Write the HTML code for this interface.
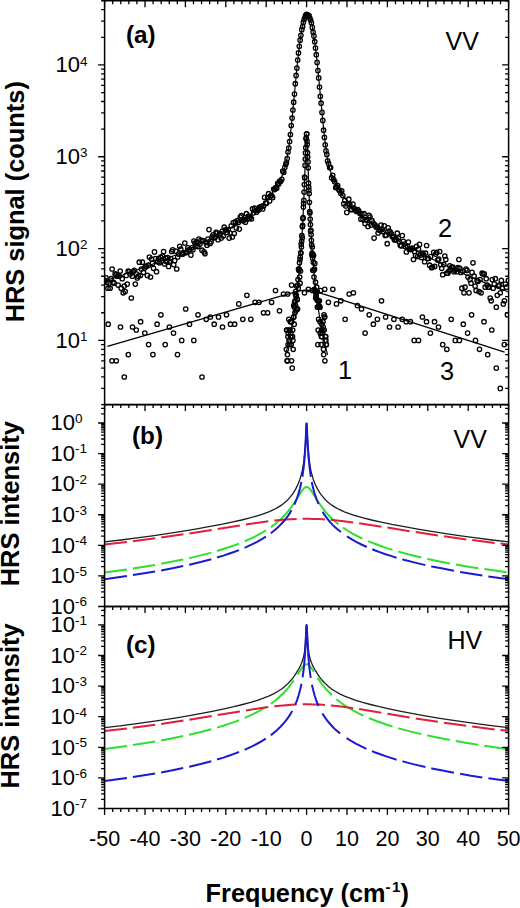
<!DOCTYPE html>
<html><head><meta charset="utf-8"><style>
html,body{margin:0;padding:0;background:#fff;}
svg{display:block;}
</style></head><body>
<svg width="520" height="908" viewBox="0 0 520 908">
<defs><clipPath id="ca"><rect x="104.6" y="0.75" width="404.0" height="403.85"/></clipPath><clipPath id="cb"><rect x="104.6" y="404.6" width="404.0" height="201.89999999999998"/></clipPath><clipPath id="cc"><rect x="104.6" y="606.5" width="404.0" height="202.0"/></clipPath></defs>
<rect width="520" height="908" fill="#fff"/>
<g clip-path="url(#ca)">
<g fill="none" stroke="#000" stroke-width="1.3">
<circle cx="105.0" cy="280.4" r="2.2"/><circle cx="106.0" cy="277.9" r="2.2"/><circle cx="107.0" cy="282.2" r="2.2"/><circle cx="108.0" cy="288.2" r="2.2"/><circle cx="109.0" cy="283.2" r="2.2"/><circle cx="110.1" cy="288.2" r="2.2"/><circle cx="111.1" cy="278.7" r="2.2"/><circle cx="112.1" cy="269.0" r="2.2"/><circle cx="113.1" cy="282.2" r="2.2"/><circle cx="114.1" cy="283.2" r="2.2"/><circle cx="115.1" cy="273.9" r="2.2"/><circle cx="116.1" cy="274.7" r="2.2"/><circle cx="117.1" cy="276.2" r="2.2"/><circle cx="118.1" cy="285.1" r="2.2"/><circle cx="119.1" cy="276.2" r="2.2"/><circle cx="120.2" cy="271.0" r="2.2"/><circle cx="121.2" cy="288.2" r="2.2"/><circle cx="122.2" cy="278.7" r="2.2"/><circle cx="123.2" cy="292.8" r="2.2"/><circle cx="124.2" cy="286.1" r="2.2"/><circle cx="125.2" cy="291.6" r="2.2"/><circle cx="126.2" cy="275.4" r="2.2"/><circle cx="127.2" cy="284.1" r="2.2"/><circle cx="128.2" cy="271.0" r="2.2"/><circle cx="129.2" cy="271.7" r="2.2"/><circle cx="130.3" cy="273.9" r="2.2"/><circle cx="131.3" cy="298.0" r="2.2"/><circle cx="132.3" cy="276.2" r="2.2"/><circle cx="133.3" cy="271.7" r="2.2"/><circle cx="134.3" cy="270.3" r="2.2"/><circle cx="135.3" cy="284.1" r="2.2"/><circle cx="136.3" cy="273.9" r="2.2"/><circle cx="137.3" cy="277.9" r="2.2"/><circle cx="138.3" cy="276.2" r="2.2"/><circle cx="139.3" cy="262.2" r="2.2"/><circle cx="140.4" cy="275.4" r="2.2"/><circle cx="141.4" cy="269.0" r="2.2"/><circle cx="142.4" cy="262.2" r="2.2"/><circle cx="143.4" cy="272.4" r="2.2"/><circle cx="144.4" cy="268.3" r="2.2"/><circle cx="145.4" cy="266.4" r="2.2"/><circle cx="146.4" cy="266.4" r="2.2"/><circle cx="147.4" cy="275.4" r="2.2"/><circle cx="148.4" cy="265.2" r="2.2"/><circle cx="149.4" cy="257.0" r="2.2"/><circle cx="150.5" cy="277.0" r="2.2"/><circle cx="151.5" cy="259.0" r="2.2"/><circle cx="152.5" cy="263.4" r="2.2"/><circle cx="153.5" cy="268.3" r="2.2"/><circle cx="154.5" cy="251.9" r="2.2"/><circle cx="155.5" cy="258.5" r="2.2"/><circle cx="156.5" cy="271.7" r="2.2"/><circle cx="157.5" cy="261.7" r="2.2"/><circle cx="158.5" cy="258.5" r="2.2"/><circle cx="159.5" cy="262.8" r="2.2"/><circle cx="160.6" cy="257.0" r="2.2"/><circle cx="161.6" cy="261.1" r="2.2"/><circle cx="162.6" cy="256.0" r="2.2"/><circle cx="163.6" cy="251.5" r="2.2"/><circle cx="164.6" cy="264.0" r="2.2"/><circle cx="165.6" cy="258.0" r="2.2"/><circle cx="166.6" cy="261.7" r="2.2"/><circle cx="167.6" cy="257.5" r="2.2"/><circle cx="168.6" cy="266.4" r="2.2"/><circle cx="169.6" cy="261.1" r="2.2"/><circle cx="170.7" cy="258.5" r="2.2"/><circle cx="171.7" cy="251.5" r="2.2"/><circle cx="172.7" cy="249.8" r="2.2"/><circle cx="173.7" cy="264.6" r="2.2"/><circle cx="174.7" cy="260.6" r="2.2"/><circle cx="175.7" cy="251.1" r="2.2"/><circle cx="176.7" cy="269.0" r="2.2"/><circle cx="177.7" cy="257.0" r="2.2"/><circle cx="178.7" cy="254.1" r="2.2"/><circle cx="179.7" cy="246.3" r="2.2"/><circle cx="180.8" cy="249.0" r="2.2"/><circle cx="181.8" cy="254.1" r="2.2"/><circle cx="182.8" cy="254.1" r="2.2"/><circle cx="183.8" cy="252.8" r="2.2"/><circle cx="184.8" cy="243.0" r="2.2"/><circle cx="185.8" cy="252.8" r="2.2"/><circle cx="186.8" cy="251.9" r="2.2"/><circle cx="187.8" cy="247.8" r="2.2"/><circle cx="188.8" cy="249.8" r="2.2"/><circle cx="189.8" cy="249.8" r="2.2"/><circle cx="190.9" cy="255.1" r="2.2"/><circle cx="191.9" cy="247.8" r="2.2"/><circle cx="192.9" cy="249.8" r="2.2"/><circle cx="193.9" cy="241.0" r="2.2"/><circle cx="194.9" cy="243.0" r="2.2"/><circle cx="195.9" cy="245.9" r="2.2"/><circle cx="196.9" cy="242.0" r="2.2"/><circle cx="197.9" cy="246.6" r="2.2"/><circle cx="198.9" cy="239.1" r="2.2"/><circle cx="199.9" cy="244.1" r="2.2"/><circle cx="201.0" cy="240.3" r="2.2"/><circle cx="202.0" cy="250.2" r="2.2"/><circle cx="203.0" cy="240.7" r="2.2"/><circle cx="204.0" cy="251.9" r="2.2"/><circle cx="205.0" cy="253.7" r="2.2"/><circle cx="206.0" cy="242.7" r="2.2"/><circle cx="207.0" cy="245.2" r="2.2"/><circle cx="208.0" cy="239.1" r="2.2"/><circle cx="209.0" cy="229.6" r="2.2"/><circle cx="210.0" cy="243.4" r="2.2"/><circle cx="211.1" cy="241.7" r="2.2"/><circle cx="212.1" cy="236.9" r="2.2"/><circle cx="213.1" cy="234.9" r="2.2"/><circle cx="214.1" cy="237.8" r="2.2"/><circle cx="215.1" cy="237.2" r="2.2"/><circle cx="216.1" cy="232.4" r="2.2"/><circle cx="217.1" cy="233.0" r="2.2"/><circle cx="218.1" cy="239.7" r="2.2"/><circle cx="219.1" cy="234.6" r="2.2"/><circle cx="220.1" cy="233.5" r="2.2"/><circle cx="221.2" cy="238.1" r="2.2"/><circle cx="222.2" cy="231.4" r="2.2"/><circle cx="223.2" cy="236.0" r="2.2"/><circle cx="224.2" cy="227.2" r="2.2"/><circle cx="225.2" cy="229.8" r="2.2"/><circle cx="226.2" cy="229.8" r="2.2"/><circle cx="227.2" cy="232.4" r="2.2"/><circle cx="228.2" cy="229.6" r="2.2"/><circle cx="229.2" cy="238.1" r="2.2"/><circle cx="230.2" cy="233.0" r="2.2"/><circle cx="231.3" cy="225.8" r="2.2"/><circle cx="232.3" cy="236.9" r="2.2"/><circle cx="233.3" cy="222.6" r="2.2"/><circle cx="234.3" cy="233.5" r="2.2"/><circle cx="235.3" cy="221.8" r="2.2"/><circle cx="236.3" cy="227.9" r="2.2"/><circle cx="237.3" cy="220.5" r="2.2"/><circle cx="238.3" cy="222.4" r="2.2"/><circle cx="239.3" cy="229.1" r="2.2"/><circle cx="240.3" cy="217.0" r="2.2"/><circle cx="241.4" cy="215.7" r="2.2"/><circle cx="242.4" cy="220.5" r="2.2"/><circle cx="243.4" cy="220.7" r="2.2"/><circle cx="244.4" cy="219.6" r="2.2"/><circle cx="245.4" cy="222.2" r="2.2"/><circle cx="246.4" cy="213.7" r="2.2"/><circle cx="247.4" cy="219.0" r="2.2"/><circle cx="248.4" cy="216.2" r="2.2"/><circle cx="249.4" cy="218.4" r="2.2"/><circle cx="250.4" cy="217.0" r="2.2"/><circle cx="251.5" cy="218.8" r="2.2"/><circle cx="252.5" cy="208.8" r="2.2"/><circle cx="253.5" cy="212.9" r="2.2"/><circle cx="254.5" cy="208.2" r="2.2"/><circle cx="255.5" cy="210.6" r="2.2"/><circle cx="256.5" cy="212.2" r="2.2"/><circle cx="257.5" cy="210.0" r="2.2"/><circle cx="258.5" cy="210.0" r="2.2"/><circle cx="259.5" cy="207.1" r="2.2"/><circle cx="260.5" cy="207.5" r="2.2"/><circle cx="261.6" cy="206.3" r="2.2"/><circle cx="262.6" cy="209.0" r="2.2"/><circle cx="263.6" cy="205.9" r="2.2"/><circle cx="264.6" cy="197.4" r="2.2"/><circle cx="265.6" cy="203.2" r="2.2"/><circle cx="266.6" cy="203.3" r="2.2"/><circle cx="267.6" cy="197.8" r="2.2"/><circle cx="268.6" cy="193.7" r="2.2"/><circle cx="269.6" cy="201.0" r="2.2"/><circle cx="270.6" cy="195.8" r="2.2"/><circle cx="271.7" cy="195.7" r="2.2"/><circle cx="272.7" cy="197.6" r="2.2"/><circle cx="273.7" cy="189.1" r="2.2"/><circle cx="274.7" cy="189.6" r="2.2"/><circle cx="275.7" cy="187.7" r="2.2"/><circle cx="276.7" cy="188.3" r="2.2"/><circle cx="277.7" cy="183.4" r="2.2"/><circle cx="278.7" cy="184.0" r="2.2"/><circle cx="279.7" cy="181.1" r="2.2"/><circle cx="280.7" cy="181.3" r="2.2"/><circle cx="281.8" cy="179.3" r="2.2"/><circle cx="282.8" cy="171.2" r="2.2"/><circle cx="283.8" cy="172.3" r="2.2"/><circle cx="284.8" cy="167.4" r="2.2"/><circle cx="285.8" cy="164.3" r="2.2"/><circle cx="286.4" cy="162.5" r="2.2"/><circle cx="287.2" cy="158.6" r="2.2"/><circle cx="288.0" cy="152.0" r="2.2"/><circle cx="288.8" cy="148.1" r="2.2"/><circle cx="289.6" cy="141.6" r="2.2"/><circle cx="290.4" cy="134.5" r="2.2"/><circle cx="291.2" cy="125.5" r="2.2"/><circle cx="292.1" cy="118.1" r="2.2"/><circle cx="292.9" cy="110.0" r="2.2"/><circle cx="293.7" cy="102.2" r="2.2"/><circle cx="294.5" cy="94.1" r="2.2"/><circle cx="295.3" cy="83.7" r="2.2"/><circle cx="296.1" cy="75.4" r="2.2"/><circle cx="296.9" cy="68.1" r="2.2"/><circle cx="297.7" cy="60.1" r="2.2"/><circle cx="298.5" cy="52.9" r="2.2"/><circle cx="299.3" cy="46.3" r="2.2"/><circle cx="300.1" cy="40.2" r="2.2"/><circle cx="300.9" cy="35.3" r="2.2"/><circle cx="301.8" cy="29.7" r="2.2"/><circle cx="302.6" cy="26.5" r="2.2"/><circle cx="303.4" cy="22.2" r="2.2"/><circle cx="304.2" cy="19.4" r="2.2"/><circle cx="305.0" cy="17.0" r="2.2"/><circle cx="305.8" cy="15.1" r="2.2"/><circle cx="306.6" cy="14.3" r="2.2"/><circle cx="307.4" cy="14.8" r="2.2"/><circle cx="308.2" cy="15.3" r="2.2"/><circle cx="309.0" cy="15.7" r="2.2"/><circle cx="309.8" cy="18.0" r="2.2"/><circle cx="310.6" cy="20.1" r="2.2"/><circle cx="311.4" cy="22.8" r="2.2"/><circle cx="312.3" cy="27.4" r="2.2"/><circle cx="313.1" cy="32.0" r="2.2"/><circle cx="313.9" cy="36.1" r="2.2"/><circle cx="314.7" cy="41.7" r="2.2"/><circle cx="315.5" cy="48.1" r="2.2"/><circle cx="316.3" cy="54.7" r="2.2"/><circle cx="317.1" cy="62.4" r="2.2"/><circle cx="317.9" cy="70.6" r="2.2"/><circle cx="318.7" cy="77.9" r="2.2"/><circle cx="319.5" cy="87.0" r="2.2"/><circle cx="320.3" cy="96.3" r="2.2"/><circle cx="321.1" cy="103.2" r="2.2"/><circle cx="322.0" cy="112.4" r="2.2"/><circle cx="322.8" cy="120.4" r="2.2"/><circle cx="323.6" cy="130.2" r="2.2"/><circle cx="324.4" cy="137.4" r="2.2"/><circle cx="325.2" cy="144.8" r="2.2"/><circle cx="326.0" cy="150.9" r="2.2"/><circle cx="326.8" cy="154.4" r="2.2"/><circle cx="327.6" cy="160.9" r="2.2"/><circle cx="328.6" cy="163.6" r="2.2"/><circle cx="329.6" cy="167.6" r="2.2"/><circle cx="330.6" cy="167.6" r="2.2"/><circle cx="331.6" cy="177.8" r="2.2"/><circle cx="332.7" cy="175.3" r="2.2"/><circle cx="333.7" cy="179.7" r="2.2"/><circle cx="334.7" cy="181.8" r="2.2"/><circle cx="335.7" cy="187.6" r="2.2"/><circle cx="336.7" cy="186.9" r="2.2"/><circle cx="337.7" cy="185.6" r="2.2"/><circle cx="338.7" cy="189.5" r="2.2"/><circle cx="339.7" cy="190.7" r="2.2"/><circle cx="340.7" cy="193.3" r="2.2"/><circle cx="341.7" cy="190.9" r="2.2"/><circle cx="342.8" cy="195.6" r="2.2"/><circle cx="343.8" cy="203.9" r="2.2"/><circle cx="344.8" cy="200.4" r="2.2"/><circle cx="345.8" cy="206.0" r="2.2"/><circle cx="346.8" cy="212.4" r="2.2"/><circle cx="347.8" cy="203.7" r="2.2"/><circle cx="348.8" cy="199.2" r="2.2"/><circle cx="349.8" cy="204.2" r="2.2"/><circle cx="350.8" cy="209.4" r="2.2"/><circle cx="351.8" cy="209.7" r="2.2"/><circle cx="352.9" cy="204.0" r="2.2"/><circle cx="353.9" cy="208.1" r="2.2"/><circle cx="354.9" cy="209.4" r="2.2"/><circle cx="355.9" cy="210.8" r="2.2"/><circle cx="356.9" cy="211.4" r="2.2"/><circle cx="357.9" cy="209.7" r="2.2"/><circle cx="358.9" cy="211.4" r="2.2"/><circle cx="359.9" cy="213.5" r="2.2"/><circle cx="360.9" cy="219.2" r="2.2"/><circle cx="361.9" cy="214.2" r="2.2"/><circle cx="363.0" cy="219.6" r="2.2"/><circle cx="364.0" cy="213.7" r="2.2"/><circle cx="365.0" cy="223.6" r="2.2"/><circle cx="366.0" cy="219.8" r="2.2"/><circle cx="367.0" cy="220.2" r="2.2"/><circle cx="368.0" cy="226.5" r="2.2"/><circle cx="369.0" cy="215.4" r="2.2"/><circle cx="370.0" cy="217.0" r="2.2"/><circle cx="371.0" cy="225.1" r="2.2"/><circle cx="372.0" cy="220.7" r="2.2"/><circle cx="373.1" cy="223.0" r="2.2"/><circle cx="374.1" cy="238.1" r="2.2"/><circle cx="375.1" cy="224.9" r="2.2"/><circle cx="376.1" cy="227.0" r="2.2"/><circle cx="377.1" cy="227.2" r="2.2"/><circle cx="378.1" cy="233.0" r="2.2"/><circle cx="379.1" cy="230.1" r="2.2"/><circle cx="380.1" cy="230.3" r="2.2"/><circle cx="381.1" cy="225.1" r="2.2"/><circle cx="382.1" cy="229.3" r="2.2"/><circle cx="383.2" cy="231.6" r="2.2"/><circle cx="384.2" cy="225.8" r="2.2"/><circle cx="385.2" cy="235.5" r="2.2"/><circle cx="386.2" cy="235.2" r="2.2"/><circle cx="387.2" cy="243.7" r="2.2"/><circle cx="388.2" cy="227.9" r="2.2"/><circle cx="389.2" cy="231.1" r="2.2"/><circle cx="390.2" cy="231.9" r="2.2"/><circle cx="391.2" cy="233.5" r="2.2"/><circle cx="392.2" cy="236.6" r="2.2"/><circle cx="393.3" cy="236.9" r="2.2"/><circle cx="394.3" cy="239.7" r="2.2"/><circle cx="395.3" cy="240.0" r="2.2"/><circle cx="396.3" cy="239.4" r="2.2"/><circle cx="397.3" cy="233.2" r="2.2"/><circle cx="398.3" cy="238.1" r="2.2"/><circle cx="399.3" cy="241.7" r="2.2"/><circle cx="400.3" cy="245.2" r="2.2"/><circle cx="401.3" cy="245.9" r="2.2"/><circle cx="402.3" cy="235.5" r="2.2"/><circle cx="403.4" cy="241.3" r="2.2"/><circle cx="404.4" cy="244.1" r="2.2"/><circle cx="405.4" cy="246.6" r="2.2"/><circle cx="406.4" cy="251.9" r="2.2"/><circle cx="407.4" cy="246.3" r="2.2"/><circle cx="408.4" cy="242.0" r="2.2"/><circle cx="409.4" cy="249.4" r="2.2"/><circle cx="410.4" cy="249.0" r="2.2"/><circle cx="411.4" cy="249.4" r="2.2"/><circle cx="412.4" cy="248.2" r="2.2"/><circle cx="413.5" cy="259.5" r="2.2"/><circle cx="414.5" cy="251.5" r="2.2"/><circle cx="415.5" cy="255.5" r="2.2"/><circle cx="416.5" cy="246.3" r="2.2"/><circle cx="417.5" cy="256.5" r="2.2"/><circle cx="418.5" cy="249.0" r="2.2"/><circle cx="419.5" cy="244.4" r="2.2"/><circle cx="420.5" cy="255.1" r="2.2"/><circle cx="421.5" cy="257.5" r="2.2"/><circle cx="422.5" cy="253.2" r="2.2"/><circle cx="423.6" cy="254.6" r="2.2"/><circle cx="424.6" cy="261.7" r="2.2"/><circle cx="425.6" cy="253.2" r="2.2"/><circle cx="426.6" cy="245.5" r="2.2"/><circle cx="427.6" cy="258.5" r="2.2"/><circle cx="428.6" cy="258.5" r="2.2"/><circle cx="429.6" cy="265.2" r="2.2"/><circle cx="430.6" cy="256.5" r="2.2"/><circle cx="431.6" cy="267.7" r="2.2"/><circle cx="432.6" cy="267.0" r="2.2"/><circle cx="433.7" cy="252.3" r="2.2"/><circle cx="434.7" cy="266.4" r="2.2"/><circle cx="435.7" cy="254.1" r="2.2"/><circle cx="436.7" cy="252.3" r="2.2"/><circle cx="437.7" cy="260.1" r="2.2"/><circle cx="438.7" cy="259.0" r="2.2"/><circle cx="439.7" cy="251.5" r="2.2"/><circle cx="440.7" cy="264.6" r="2.2"/><circle cx="441.7" cy="268.3" r="2.2"/><circle cx="442.7" cy="274.7" r="2.2"/><circle cx="443.8" cy="264.6" r="2.2"/><circle cx="444.8" cy="256.0" r="2.2"/><circle cx="445.8" cy="259.5" r="2.2"/><circle cx="446.8" cy="273.2" r="2.2"/><circle cx="447.8" cy="273.2" r="2.2"/><circle cx="448.8" cy="271.0" r="2.2"/><circle cx="449.8" cy="265.8" r="2.2"/><circle cx="450.8" cy="269.6" r="2.2"/><circle cx="451.8" cy="267.0" r="2.2"/><circle cx="452.8" cy="267.0" r="2.2"/><circle cx="453.9" cy="271.7" r="2.2"/><circle cx="454.9" cy="270.3" r="2.2"/><circle cx="455.9" cy="269.0" r="2.2"/><circle cx="456.9" cy="271.7" r="2.2"/><circle cx="457.9" cy="267.7" r="2.2"/><circle cx="458.9" cy="259.5" r="2.2"/><circle cx="459.9" cy="268.3" r="2.2"/><circle cx="460.9" cy="272.4" r="2.2"/><circle cx="461.9" cy="288.2" r="2.2"/><circle cx="462.9" cy="271.0" r="2.2"/><circle cx="464.0" cy="292.8" r="2.2"/><circle cx="465.0" cy="287.2" r="2.2"/><circle cx="466.0" cy="269.0" r="2.2"/><circle cx="467.0" cy="270.3" r="2.2"/><circle cx="468.0" cy="277.0" r="2.2"/><circle cx="469.0" cy="292.8" r="2.2"/><circle cx="470.0" cy="279.6" r="2.2"/><circle cx="471.0" cy="283.2" r="2.2"/><circle cx="472.0" cy="272.4" r="2.2"/><circle cx="473.0" cy="262.8" r="2.2"/><circle cx="474.1" cy="276.2" r="2.2"/><circle cx="475.1" cy="286.1" r="2.2"/><circle cx="476.1" cy="290.5" r="2.2"/><circle cx="477.1" cy="280.4" r="2.2"/><circle cx="478.1" cy="281.3" r="2.2"/><circle cx="479.1" cy="291.6" r="2.2"/><circle cx="480.1" cy="279.6" r="2.2"/><circle cx="481.1" cy="292.8" r="2.2"/><circle cx="482.1" cy="273.2" r="2.2"/><circle cx="483.1" cy="273.9" r="2.2"/><circle cx="484.2" cy="273.9" r="2.2"/><circle cx="485.2" cy="287.2" r="2.2"/><circle cx="486.2" cy="278.7" r="2.2"/><circle cx="487.2" cy="285.1" r="2.2"/><circle cx="488.2" cy="287.2" r="2.2"/><circle cx="489.2" cy="287.2" r="2.2"/><circle cx="490.2" cy="298.0" r="2.2"/><circle cx="491.2" cy="300.8" r="2.2"/><circle cx="492.2" cy="279.6" r="2.2"/><circle cx="493.2" cy="288.2" r="2.2"/><circle cx="494.3" cy="284.1" r="2.2"/><circle cx="495.3" cy="278.7" r="2.2"/><circle cx="496.3" cy="307.2" r="2.2"/><circle cx="497.3" cy="295.3" r="2.2"/><circle cx="498.3" cy="286.1" r="2.2"/><circle cx="499.3" cy="285.1" r="2.2"/><circle cx="500.3" cy="292.8" r="2.2"/><circle cx="501.3" cy="280.4" r="2.2"/><circle cx="502.3" cy="288.2" r="2.2"/><circle cx="503.3" cy="303.9" r="2.2"/><circle cx="504.4" cy="300.8" r="2.2"/><circle cx="505.4" cy="284.1" r="2.2"/><circle cx="506.4" cy="287.2" r="2.2"/><circle cx="507.4" cy="314.8" r="2.2"/><circle cx="508.4" cy="280.4" r="2.2"/><circle cx="286.4" cy="349.3" r="2.2"/><circle cx="286.6" cy="330.0" r="2.2"/><circle cx="286.9" cy="330.0" r="2.2"/><circle cx="287.1" cy="360.8" r="2.2"/><circle cx="287.4" cy="354.6" r="2.2"/><circle cx="287.6" cy="360.8" r="2.2"/><circle cx="287.9" cy="336.6" r="2.2"/><circle cx="288.1" cy="344.6" r="2.2"/><circle cx="288.3" cy="333.1" r="2.2"/><circle cx="288.8" cy="319.3" r="2.2"/><circle cx="289.1" cy="340.4" r="2.2"/><circle cx="289.3" cy="330.0" r="2.2"/><circle cx="289.6" cy="340.4" r="2.2"/><circle cx="289.8" cy="344.6" r="2.2"/><circle cx="290.0" cy="330.0" r="2.2"/><circle cx="290.3" cy="321.7" r="2.2"/><circle cx="290.5" cy="336.6" r="2.2"/><circle cx="290.8" cy="333.1" r="2.2"/><circle cx="291.0" cy="321.7" r="2.2"/><circle cx="291.2" cy="344.6" r="2.2"/><circle cx="291.5" cy="360.8" r="2.2"/><circle cx="291.7" cy="321.7" r="2.2"/><circle cx="292.0" cy="336.6" r="2.2"/><circle cx="292.2" cy="368.1" r="2.2"/><circle cx="292.5" cy="336.6" r="2.2"/><circle cx="292.7" cy="330.0" r="2.2"/><circle cx="292.9" cy="340.4" r="2.2"/><circle cx="293.2" cy="349.3" r="2.2"/><circle cx="293.4" cy="317.0" r="2.2"/><circle cx="293.7" cy="305.5" r="2.2"/><circle cx="293.9" cy="317.0" r="2.2"/><circle cx="294.2" cy="324.2" r="2.2"/><circle cx="294.4" cy="307.2" r="2.2"/><circle cx="294.6" cy="302.3" r="2.2"/><circle cx="294.9" cy="312.8" r="2.2"/><circle cx="295.1" cy="300.8" r="2.2"/><circle cx="295.4" cy="294.0" r="2.2"/><circle cx="295.6" cy="305.5" r="2.2"/><circle cx="295.9" cy="310.8" r="2.2"/><circle cx="296.1" cy="296.6" r="2.2"/><circle cx="296.3" cy="295.3" r="2.2"/><circle cx="296.6" cy="286.1" r="2.2"/><circle cx="296.8" cy="309.0" r="2.2"/><circle cx="297.1" cy="299.4" r="2.2"/><circle cx="297.3" cy="299.4" r="2.2"/><circle cx="297.6" cy="309.0" r="2.2"/><circle cx="297.8" cy="285.1" r="2.2"/><circle cx="298.0" cy="279.6" r="2.2"/><circle cx="298.3" cy="288.2" r="2.2"/><circle cx="298.5" cy="269.0" r="2.2"/><circle cx="298.8" cy="270.3" r="2.2"/><circle cx="299.0" cy="269.6" r="2.2"/><circle cx="299.2" cy="269.0" r="2.2"/><circle cx="299.5" cy="262.8" r="2.2"/><circle cx="299.7" cy="277.0" r="2.2"/><circle cx="300.0" cy="259.5" r="2.2"/><circle cx="300.2" cy="257.0" r="2.2"/><circle cx="300.5" cy="271.0" r="2.2"/><circle cx="300.7" cy="252.8" r="2.2"/><circle cx="300.9" cy="253.2" r="2.2"/><circle cx="301.2" cy="244.1" r="2.2"/><circle cx="301.4" cy="247.0" r="2.2"/><circle cx="301.7" cy="241.3" r="2.2"/><circle cx="301.9" cy="235.7" r="2.2"/><circle cx="302.2" cy="237.8" r="2.2"/><circle cx="302.4" cy="226.7" r="2.2"/><circle cx="302.6" cy="225.4" r="2.2"/><circle cx="302.9" cy="218.6" r="2.2"/><circle cx="303.1" cy="217.7" r="2.2"/><circle cx="303.4" cy="207.1" r="2.2"/><circle cx="303.6" cy="203.5" r="2.2"/><circle cx="303.9" cy="200.4" r="2.2"/><circle cx="304.1" cy="192.1" r="2.2"/><circle cx="304.3" cy="184.6" r="2.2"/><circle cx="304.6" cy="177.1" r="2.2"/><circle cx="304.8" cy="177.9" r="2.2"/><circle cx="305.1" cy="165.4" r="2.2"/><circle cx="305.3" cy="159.1" r="2.2"/><circle cx="305.5" cy="152.9" r="2.2"/><circle cx="305.8" cy="147.7" r="2.2"/><circle cx="306.0" cy="138.6" r="2.2"/><circle cx="306.3" cy="138.2" r="2.2"/><circle cx="306.5" cy="134.0" r="2.2"/><circle cx="306.8" cy="133.9" r="2.2"/><circle cx="307.0" cy="141.2" r="2.2"/><circle cx="307.2" cy="144.5" r="2.2"/><circle cx="307.5" cy="152.7" r="2.2"/><circle cx="307.7" cy="157.1" r="2.2"/><circle cx="308.0" cy="161.9" r="2.2"/><circle cx="308.2" cy="167.8" r="2.2"/><circle cx="308.5" cy="183.2" r="2.2"/><circle cx="308.7" cy="187.0" r="2.2"/><circle cx="308.9" cy="190.0" r="2.2"/><circle cx="309.2" cy="193.5" r="2.2"/><circle cx="309.4" cy="202.3" r="2.2"/><circle cx="309.7" cy="211.6" r="2.2"/><circle cx="309.9" cy="213.0" r="2.2"/><circle cx="310.2" cy="219.0" r="2.2"/><circle cx="310.4" cy="224.5" r="2.2"/><circle cx="310.6" cy="231.1" r="2.2"/><circle cx="310.9" cy="230.3" r="2.2"/><circle cx="311.1" cy="234.6" r="2.2"/><circle cx="311.4" cy="240.3" r="2.2"/><circle cx="311.6" cy="244.8" r="2.2"/><circle cx="311.9" cy="255.1" r="2.2"/><circle cx="312.1" cy="253.2" r="2.2"/><circle cx="312.3" cy="247.0" r="2.2"/><circle cx="312.6" cy="258.0" r="2.2"/><circle cx="312.8" cy="270.3" r="2.2"/><circle cx="313.1" cy="254.6" r="2.2"/><circle cx="313.3" cy="262.2" r="2.2"/><circle cx="313.5" cy="255.5" r="2.2"/><circle cx="313.8" cy="270.3" r="2.2"/><circle cx="314.0" cy="277.0" r="2.2"/><circle cx="314.3" cy="289.3" r="2.2"/><circle cx="314.5" cy="269.0" r="2.2"/><circle cx="314.8" cy="263.4" r="2.2"/><circle cx="315.0" cy="290.5" r="2.2"/><circle cx="315.2" cy="291.6" r="2.2"/><circle cx="315.5" cy="282.2" r="2.2"/><circle cx="315.7" cy="298.0" r="2.2"/><circle cx="316.0" cy="294.0" r="2.2"/><circle cx="316.2" cy="296.6" r="2.2"/><circle cx="316.5" cy="292.8" r="2.2"/><circle cx="316.7" cy="287.2" r="2.2"/><circle cx="316.9" cy="299.4" r="2.2"/><circle cx="317.2" cy="291.6" r="2.2"/><circle cx="317.4" cy="307.2" r="2.2"/><circle cx="317.7" cy="300.8" r="2.2"/><circle cx="317.9" cy="344.6" r="2.2"/><circle cx="318.2" cy="330.0" r="2.2"/><circle cx="318.4" cy="300.8" r="2.2"/><circle cx="318.6" cy="319.3" r="2.2"/><circle cx="318.9" cy="305.5" r="2.2"/><circle cx="319.1" cy="307.2" r="2.2"/><circle cx="319.4" cy="300.8" r="2.2"/><circle cx="319.6" cy="307.2" r="2.2"/><circle cx="319.9" cy="307.2" r="2.2"/><circle cx="320.1" cy="321.7" r="2.2"/><circle cx="320.3" cy="333.1" r="2.2"/><circle cx="320.6" cy="333.1" r="2.2"/><circle cx="320.8" cy="333.1" r="2.2"/><circle cx="321.1" cy="344.6" r="2.2"/><circle cx="321.3" cy="336.6" r="2.2"/><circle cx="321.5" cy="330.0" r="2.2"/><circle cx="321.8" cy="324.2" r="2.2"/><circle cx="322.0" cy="336.6" r="2.2"/><circle cx="322.5" cy="333.1" r="2.2"/><circle cx="322.8" cy="330.0" r="2.2"/><circle cx="323.0" cy="321.7" r="2.2"/><circle cx="323.2" cy="327.0" r="2.2"/><circle cx="323.5" cy="349.3" r="2.2"/><circle cx="323.7" cy="354.6" r="2.2"/><circle cx="324.0" cy="314.8" r="2.2"/><circle cx="324.2" cy="330.0" r="2.2"/><circle cx="324.5" cy="317.0" r="2.2"/><circle cx="324.7" cy="317.0" r="2.2"/><circle cx="324.9" cy="360.8" r="2.2"/><circle cx="325.2" cy="340.4" r="2.2"/><circle cx="325.4" cy="336.6" r="2.2"/><circle cx="325.7" cy="336.6" r="2.2"/><circle cx="325.9" cy="340.4" r="2.2"/><circle cx="326.2" cy="344.6" r="2.2"/><circle cx="326.4" cy="344.6" r="2.2"/><circle cx="108.2" cy="324.2" r="2.2"/><circle cx="112.0" cy="360.8" r="2.2"/><circle cx="116.3" cy="360.8" r="2.2"/><circle cx="120.5" cy="327.0" r="2.2"/><circle cx="124.3" cy="377.0" r="2.2"/><circle cx="128.3" cy="354.6" r="2.2"/><circle cx="132.5" cy="327.0" r="2.2"/><circle cx="136.3" cy="330.0" r="2.2"/><circle cx="140.6" cy="321.7" r="2.2"/><circle cx="144.8" cy="333.1" r="2.2"/><circle cx="148.6" cy="344.6" r="2.2"/><circle cx="152.9" cy="354.6" r="2.2"/><circle cx="157.1" cy="324.2" r="2.2"/><circle cx="160.9" cy="314.8" r="2.2"/><circle cx="165.2" cy="344.6" r="2.2"/><circle cx="169.4" cy="327.0" r="2.2"/><circle cx="173.5" cy="333.1" r="2.2"/><circle cx="177.5" cy="354.6" r="2.2"/><circle cx="181.7" cy="340.4" r="2.2"/><circle cx="185.7" cy="309.0" r="2.2"/><circle cx="189.5" cy="324.2" r="2.2"/><circle cx="193.8" cy="340.4" r="2.2"/><circle cx="198.0" cy="314.8" r="2.2"/><circle cx="202.0" cy="377.0" r="2.2"/><circle cx="206.2" cy="319.3" r="2.2"/><circle cx="210.3" cy="317.0" r="2.2"/><circle cx="214.2" cy="324.2" r="2.2"/><circle cx="218.5" cy="317.0" r="2.2"/><circle cx="222.5" cy="327.0" r="2.2"/><circle cx="226.5" cy="314.8" r="2.2"/><circle cx="230.5" cy="324.2" r="2.2"/><circle cx="234.6" cy="324.2" r="2.2"/><circle cx="238.8" cy="303.9" r="2.2"/><circle cx="242.8" cy="319.3" r="2.2"/><circle cx="246.9" cy="295.3" r="2.2"/><circle cx="250.8" cy="319.3" r="2.2"/><circle cx="255.1" cy="302.3" r="2.2"/><circle cx="259.0" cy="302.3" r="2.2"/><circle cx="263.5" cy="312.8" r="2.2"/><circle cx="267.6" cy="312.8" r="2.2"/><circle cx="271.6" cy="302.3" r="2.2"/><circle cx="275.5" cy="290.5" r="2.2"/><circle cx="279.5" cy="310.8" r="2.2"/><circle cx="283.5" cy="294.0" r="2.2"/><circle cx="287.7" cy="294.0" r="2.2"/><circle cx="291.6" cy="285.1" r="2.2"/><circle cx="295.6" cy="291.6" r="2.2"/><circle cx="300.1" cy="283.2" r="2.2"/><circle cx="304.5" cy="292.8" r="2.2"/><circle cx="308.4" cy="289.3" r="2.2"/><circle cx="312.4" cy="290.5" r="2.2"/><circle cx="316.4" cy="291.6" r="2.2"/><circle cx="320.5" cy="290.5" r="2.2"/><circle cx="324.7" cy="289.3" r="2.2"/><circle cx="328.4" cy="302.3" r="2.2"/><circle cx="332.8" cy="289.3" r="2.2"/><circle cx="336.5" cy="303.9" r="2.2"/><circle cx="340.8" cy="300.8" r="2.2"/><circle cx="345.1" cy="319.3" r="2.2"/><circle cx="349.2" cy="294.0" r="2.2"/><circle cx="353.4" cy="292.8" r="2.2"/><circle cx="357.4" cy="305.5" r="2.2"/><circle cx="361.5" cy="309.0" r="2.2"/><circle cx="365.1" cy="333.1" r="2.2"/><circle cx="369.2" cy="314.8" r="2.2"/><circle cx="373.4" cy="324.2" r="2.2"/><circle cx="377.4" cy="319.3" r="2.2"/><circle cx="381.5" cy="300.8" r="2.2"/><circle cx="385.6" cy="317.0" r="2.2"/><circle cx="389.5" cy="327.0" r="2.2"/><circle cx="393.9" cy="319.3" r="2.2"/><circle cx="398.1" cy="327.0" r="2.2"/><circle cx="402.2" cy="319.3" r="2.2"/><circle cx="406.2" cy="321.7" r="2.2"/><circle cx="410.4" cy="321.7" r="2.2"/><circle cx="414.2" cy="340.4" r="2.2"/><circle cx="418.5" cy="340.4" r="2.2"/><circle cx="422.4" cy="317.0" r="2.2"/><circle cx="426.5" cy="321.7" r="2.2"/><circle cx="430.4" cy="333.1" r="2.2"/><circle cx="434.5" cy="321.7" r="2.2"/><circle cx="438.5" cy="327.0" r="2.2"/><circle cx="442.7" cy="344.6" r="2.2"/><circle cx="446.8" cy="349.3" r="2.2"/><circle cx="451.2" cy="319.3" r="2.2"/><circle cx="455.3" cy="340.4" r="2.2"/><circle cx="459.4" cy="340.4" r="2.2"/><circle cx="463.3" cy="324.2" r="2.2"/><circle cx="467.6" cy="333.1" r="2.2"/><circle cx="471.6" cy="314.8" r="2.2"/><circle cx="475.5" cy="340.4" r="2.2"/><circle cx="479.5" cy="349.3" r="2.2"/><circle cx="484.0" cy="321.7" r="2.2"/><circle cx="487.7" cy="354.6" r="2.2"/><circle cx="491.8" cy="330.0" r="2.2"/><circle cx="496.3" cy="368.1" r="2.2"/><circle cx="500.3" cy="388.4" r="2.2"/><circle cx="504.3" cy="344.6" r="2.2"/>
</g>
<path d="M104.6,280.9L119.8,276.0L134.3,271.0L148.4,265.8L162.2,260.5L175.5,255.0L188.4,249.3L201.0,243.4L212.7,237.5L223.4,231.8L233.1,226.2L241.8,220.7L249.2,215.5L255.7,210.5L261.4,205.5L266.4,200.3L271.0,194.6L274.1,190.4L276.7,186.3L279.1,181.9L281.4,177.4L283.0,173.5L284.4,169.4L285.6,165.1L286.8,159.8L288.6,149.0L290.4,134.5L292.1,118.8L296.9,68.0L298.5,53.3L300.1,40.6L302.0,29.1L303.0,24.2L303.8,20.9L304.8,17.8L305.6,16.0L306.6,14.7L307.4,14.4L308.2,14.8L309.0,15.9L309.8,17.7L310.8,20.8L311.7,24.0L312.7,28.9L314.5,40.3L316.1,53.0L317.7,67.7L322.8,120.8L324.4,136.4L326.0,149.4L327.8,160.5L329.0,166.0L330.2,170.4L331.6,174.6L333.3,178.6L335.5,183.4L337.9,187.9L340.5,192.2L343.6,196.6L348.2,202.5L353.3,208.0L358.9,213.4L365.4,218.8L372.9,224.5L381.3,230.3L390.8,236.3L401.3,242.6L413.1,249.2L425.4,255.7L438.1,262.0L451.4,268.3L465.0,274.4L479.1,280.4L493.7,286.3L508.6,292.0" fill="none" stroke="#000" stroke-width="1.2"/>
<path d="M285.6,354.6L287.8,345.8L289.8,336.6L291.7,327.1L293.5,317.0L295.2,306.4L296.6,295.6L298.0,284.1L299.2,272.3L301.1,248.9L302.8,222.7L304.1,193.0L305.9,143.0L306.2,137.0L306.5,134.7L306.7,135.1L306.9,136.7L307.2,142.4L309.0,193.7L310.4,223.3L312.0,249.3L314.0,272.6L315.2,284.8L316.6,296.2L318.0,307.0L319.7,317.4L321.5,327.5L323.4,337.0L325.4,346.1L327.6,354.9" fill="none" stroke="#000" stroke-width="1.2"/>
<path d="M107.4,346.4L237.5,308.6L283.2,295.4L293.1,292.7L299.0,291.2L303.0,290.4L305.0,290.2L307.0,290.2L310.0,290.5L314.9,291.6L321.9,293.6L331.8,296.7L377.5,311.3L504.6,352.2" fill="none" stroke="#000" stroke-width="1.3"/>
</g>
<g clip-path="url(#cb)" fill="none">
<path d="M104.6,541.9L121.1,540.0L137.0,537.9L152.4,535.8L167.4,533.6L181.7,531.4L195.5,529.1L208.8,526.7L221.2,524.4L232.0,522.1L241.6,520.0L249.9,517.9L257.2,515.8L263.4,513.9L268.8,511.8L273.6,509.7L277.9,507.4L279.9,506.1L281.8,504.9L283.5,503.6L285.2,502.2L286.8,500.7L288.3,499.2L289.7,497.7L291.1,495.9L292.5,494.1L293.7,492.3L296.0,488.4L298.1,484.1L299.9,479.5L301.1,475.2L302.3,470.6L303.2,465.5L304.0,459.8L304.5,454.3L305.1,447.9L305.6,439.9L306.3,425.6L306.5,423.6L306.6,422.9L306.7,423.6L306.9,425.6L307.6,439.9L308.1,447.9L308.7,454.3L309.2,459.8L310.0,465.5L310.9,470.6L312.1,475.2L313.3,479.5L315.1,484.1L317.2,488.4L319.5,492.3L320.7,494.1L322.1,495.9L323.5,497.7L324.9,499.2L326.4,500.7L328.0,502.2L329.7,503.6L331.4,504.9L333.3,506.1L335.3,507.4L339.6,509.7L344.4,511.8L349.8,513.9L356.0,515.8L363.3,517.9L371.6,520.0L381.2,522.1L392.0,524.4L404.4,526.7L417.7,529.1L431.5,531.4L445.8,533.6L460.8,535.8L476.2,537.9L492.1,540.0L508.6,541.9" stroke="#1e1e1e" stroke-width="1.3"/>
<path d="M104.6,572.5L126.9,569.4M132.9,568.5L144.2,566.7L155.1,564.9M161.2,563.8L172.5,561.6L183.2,559.4M189.1,558.1L189.4,558.1M189.4,558.1L200.7,555.4L211.3,552.6M217.0,551.0L217.7,550.8M217.7,550.8L223.4,549.0L228.8,547.3L234.1,545.4L239.0,543.6M244.6,541.3L246.0,540.7M246.0,540.7L251.5,538.3L256.6,535.7L261.4,533.1L266.0,530.4M271.0,527.1L274.3,524.6M274.3,524.6L277.8,521.8L281.1,518.8L284.2,515.7L287.1,512.4L290.3,508.6L293.3,504.4L296.0,500.2L300.8,492.5L302.6,489.9L303.7,488.6L304.7,487.7L305.7,487.2L306.6,487.0L307.5,487.1L308.5,487.7L309.5,488.6L310.6,489.9L312.4,492.5L317.2,500.2L319.9,504.3L322.9,508.5L326.0,512.3L328.8,515.5L331.9,518.6L335.1,521.5L338.5,524.3M343.0,527.6L347.4,530.5L352.1,533.3L357.2,536.0L362.5,538.6M368.0,541.1L371.2,542.4M371.2,542.4L376.2,544.3L381.4,546.2L386.8,548.1L392.5,549.9M398.2,551.6L399.5,551.9M399.5,551.9L410.0,554.8L421.3,557.5M427.2,558.8L427.8,559.0M427.8,559.0L438.5,561.2L449.9,563.4M455.8,564.5L456.1,564.5M456.1,564.5L466.9,566.4L478.3,568.2M484.4,569.1L506.6,572.2" stroke="#2ee02e" stroke-width="2.0" fill="none" stroke-linecap="butt"/>
<path d="M104.6,544.5L126.9,541.9M132.9,541.2L155.2,538.3M161.2,537.4L183.4,534.3M189.4,533.4L211.7,529.9M217.7,528.9L239.9,525.4M246.0,524.4L258.0,522.7L268.3,521.3M274.3,520.6L285.9,519.6L291.4,519.2L296.7,518.9M302.6,518.8L308.1,518.8L313.7,518.9L319.3,519.1L325.0,519.4M330.8,519.8L341.4,520.9L353.2,522.4M359.1,523.2L381.4,526.7M387.4,527.6L409.6,531.2M415.7,532.1L437.9,535.4M444.0,536.3L466.3,539.4M472.2,540.1L494.6,542.9M500.5,543.6L508.6,544.5" stroke="#e0203a" stroke-width="2.0" fill="none" stroke-linecap="butt"/>
<path d="M104.6,579.2L126.9,576.0M132.9,575.1L144.2,573.3L155.1,571.5M161.2,570.4L172.5,568.3L183.2,566.1M189.1,564.8L189.4,564.7M189.4,564.7L200.7,562.0L211.3,559.2M217.0,557.5L217.7,557.3M217.7,557.3L223.4,555.6L228.8,553.8L234.0,552.0L239.0,550.1M244.6,547.8L246.0,547.2M246.0,547.2L251.5,544.7L256.6,542.1L261.4,539.4L265.9,536.6M270.8,533.2L274.3,530.5M274.3,530.5L276.9,528.2L279.4,525.9L281.7,523.5L284.0,521.0L286.0,518.5L288.0,515.8L289.8,513.1L291.5,510.3M294.4,504.6L296.5,499.5L298.4,494.1L300.0,488.2L301.4,482.0M302.4,476.8L303.0,472.2L303.7,467.3L304.7,456.7L305.5,444.7L306.3,425.5L306.5,423.7L306.6,423.0L306.7,423.6L306.8,425.3L307.7,444.7L308.5,456.8L309.6,467.4L310.2,472.2L310.8,476.8M311.8,482.0L313.1,488.1L314.7,493.7L316.5,499.0L318.5,504.0M322.6,511.8L324.4,514.6L326.3,517.4L328.4,520.0L330.6,522.6L332.9,525.1L335.4,527.5L338.1,529.8L340.9,532.1M347.0,536.4L351.5,539.2L356.2,541.9L361.4,544.5L366.8,547.0M372.3,549.3L375.3,550.5M375.3,550.5L380.3,552.4L385.5,554.2L390.9,555.9L396.6,557.7M402.4,559.3L403.6,559.7M403.6,559.7L414.1,562.4L425.4,565.1M431.3,566.3L431.8,566.5M431.8,566.5L442.6,568.6L453.9,570.8M460.1,571.9L471.0,573.7L482.3,575.5M488.4,576.4L508.6,579.2" stroke="#1a1ad0" stroke-width="2.0" fill="none" stroke-linecap="butt"/>
</g>
<g clip-path="url(#cc)" fill="none">
<path d="M104.6,727.7L119.9,725.9L134.9,723.9L149.3,721.9L163.2,719.9L176.6,717.8L189.4,715.6L201.6,713.4L213.4,711.1L224.1,708.9L233.9,706.7L242.7,704.5L250.6,702.4L257.4,700.3L263.4,698.2L268.7,696.1L273.5,693.8L278.0,691.3L282.0,688.7L283.8,687.2L285.6,685.7L287.4,684.1L289.0,682.5L290.6,680.7L292.2,678.8L293.7,676.8L295.2,674.7L298.1,670.1L299.4,667.7L300.6,665.4L301.9,662.3L302.9,659.3L303.7,656.1L304.4,652.5L304.8,648.8L305.3,644.1L306.3,626.6L306.5,624.8L306.6,624.2L306.7,624.8L306.9,626.6L307.9,644.1L308.4,648.8L308.8,652.5L309.5,656.1L310.3,659.3L311.3,662.3L312.6,665.4L313.8,667.7L315.1,670.1L318.0,674.7L319.5,676.8L321.0,678.8L322.6,680.7L324.2,682.5L325.8,684.1L327.6,685.7L329.4,687.2L331.2,688.7L335.2,691.3L339.7,693.8L344.5,696.1L349.8,698.2L355.8,700.3L362.6,702.4L370.5,704.5L379.3,706.7L389.1,708.9L399.8,711.1L411.6,713.4L423.8,715.6L436.6,717.8L450.0,719.9L463.9,721.9L478.3,723.9L493.3,725.9L508.6,727.7" stroke="#1e1e1e" stroke-width="1.3"/>
<path d="M104.6,749.1L126.9,746.0M132.9,745.1L144.2,743.3L155.1,741.5M161.2,740.4L172.5,738.3L183.2,736.0M189.1,734.8L189.4,734.7M189.4,734.7L200.7,732.0L211.3,729.2M217.0,727.6L217.7,727.4M217.7,727.4L223.4,725.7L228.8,723.9L234.0,722.1L239.0,720.2M244.6,717.9L246.0,717.3M246.0,717.3L251.5,714.9L256.6,712.4L261.4,709.7L266.0,707.0M271.0,703.7L274.3,701.2M274.3,701.2L277.1,699.0L279.8,696.6L282.4,694.2L284.8,691.7L287.2,689.1L289.4,686.4L291.6,683.5L293.8,680.4M297.6,674.6L300.9,669.4L302.8,666.7L303.7,665.7L304.6,665.0L305.4,664.5L306.2,664.2L306.9,664.2L307.7,664.5L308.6,664.9L309.4,665.7L310.3,666.6L311.3,667.9L313.9,671.8M317.7,677.9L321.1,682.9L324.5,687.3L328.1,691.4L331.9,695.3M336.4,699.2L340.0,702.0L343.8,704.8M343.8,704.8L348.2,707.6L353.0,710.4L358.0,713.1L363.4,715.7M368.9,718.1L371.2,719.0M371.2,719.0L376.2,721.0L381.4,722.8L386.8,724.7L392.5,726.5M398.2,728.2L399.5,728.6M399.5,728.6L410.0,731.4L421.3,734.1M427.2,735.4L427.8,735.6M427.8,735.6L438.5,737.8L449.9,740.0M455.8,741.1L456.1,741.1M456.1,741.1L466.9,743.0L478.3,744.8M484.4,745.7L506.6,748.9" stroke="#2ee02e" stroke-width="2.0" fill="none" stroke-linecap="butt"/>
<path d="M104.6,731.1L126.9,728.4M132.9,727.7L155.2,724.7M161.2,723.9L183.4,720.6M189.4,719.7L211.7,716.1M217.7,715.1L239.9,711.4M246.0,710.4L258.1,708.5L268.3,707.1M274.3,706.3L280.2,705.7L285.9,705.2L291.4,704.8L296.7,704.5M302.6,704.3L308.1,704.3L313.7,704.4L319.3,704.6L325.0,705.0M330.8,705.5L341.3,706.6L353.2,708.2M359.1,709.1L381.3,712.7M387.4,713.8L409.6,717.4M415.7,718.4L437.9,721.8M444.0,722.7L466.2,725.8M472.2,726.6L494.6,729.4M500.5,730.1L508.6,731.1" stroke="#e0203a" stroke-width="2.0" fill="none" stroke-linecap="butt"/>
<path d="M104.6,781.1L126.9,778.0M132.9,777.1L144.2,775.3L155.1,773.5M161.2,772.4L172.5,770.3L183.2,768.0M189.1,766.7L189.4,766.7M189.4,766.7L200.7,764.0L211.3,761.2M217.0,759.5L217.7,759.3M217.7,759.3L223.4,757.6L228.8,755.8L234.0,753.9L239.0,752.0M244.6,749.8L246.0,749.1M246.0,749.1L251.5,746.6L256.6,744.0L261.4,741.4L265.8,738.6M270.8,735.2L274.3,732.4M274.3,732.4L277.1,730.0L279.7,727.6L282.1,725.0L284.4,722.4L286.6,719.7L288.6,716.9L290.5,714.0L292.2,710.9M295.3,704.5L297.2,699.8L298.8,694.8L300.2,689.4L301.5,683.7M302.6,677.4L303.8,668.3L304.7,657.9L305.5,646.2L306.3,627.4L306.5,625.5L306.6,624.9L306.7,625.6L306.9,627.4L307.7,646.2L308.5,658.2L309.5,668.7L310.1,673.5L310.7,677.9M311.9,684.7L313.3,690.6L314.8,696.0L316.5,701.2L318.5,706.0M322.4,713.4L324.1,716.2L326.0,718.9L328.0,721.5L330.1,724.0L332.4,726.5L334.8,728.9L337.4,731.2L340.1,733.4M346.6,738.1L351.1,740.9L355.8,743.6L360.9,746.2L366.4,748.8M371.9,751.1L375.3,752.5M375.3,752.5L380.3,754.3L385.5,756.1L390.9,757.9L396.6,759.7M402.4,761.3L403.6,761.6M403.6,761.6L414.1,764.4L425.4,767.0M431.3,768.3L431.8,768.4M431.8,768.4L442.6,770.6L453.9,772.7M460.1,773.8L471.0,775.7L482.3,777.4M488.4,778.3L508.6,781.1" stroke="#1a1ad0" stroke-width="2.0" fill="none" stroke-linecap="butt"/>
</g>
<path d="M104.60,0.75L104.60,7.25M104.60,404.60L104.60,411.10M112.68,0.75L112.68,4.25M112.68,404.60L112.68,408.10M120.76,0.75L120.76,4.25M120.76,404.60L120.76,408.10M128.84,0.75L128.84,4.25M128.84,404.60L128.84,408.10M136.92,0.75L136.92,4.25M136.92,404.60L136.92,408.10M145.00,0.75L145.00,7.25M145.00,404.60L145.00,411.10M153.08,0.75L153.08,4.25M153.08,404.60L153.08,408.10M161.16,0.75L161.16,4.25M161.16,404.60L161.16,408.10M169.24,0.75L169.24,4.25M169.24,404.60L169.24,408.10M177.32,0.75L177.32,4.25M177.32,404.60L177.32,408.10M185.40,0.75L185.40,7.25M185.40,404.60L185.40,411.10M193.48,0.75L193.48,4.25M193.48,404.60L193.48,408.10M201.56,0.75L201.56,4.25M201.56,404.60L201.56,408.10M209.64,0.75L209.64,4.25M209.64,404.60L209.64,408.10M217.72,0.75L217.72,4.25M217.72,404.60L217.72,408.10M225.80,0.75L225.80,7.25M225.80,404.60L225.80,411.10M233.88,0.75L233.88,4.25M233.88,404.60L233.88,408.10M241.96,0.75L241.96,4.25M241.96,404.60L241.96,408.10M250.04,0.75L250.04,4.25M250.04,404.60L250.04,408.10M258.12,0.75L258.12,4.25M258.12,404.60L258.12,408.10M266.20,0.75L266.20,7.25M266.20,404.60L266.20,411.10M274.28,0.75L274.28,4.25M274.28,404.60L274.28,408.10M282.36,0.75L282.36,4.25M282.36,404.60L282.36,408.10M290.44,0.75L290.44,4.25M290.44,404.60L290.44,408.10M298.52,0.75L298.52,4.25M298.52,404.60L298.52,408.10M306.60,0.75L306.60,7.25M306.60,404.60L306.60,411.10M314.68,0.75L314.68,4.25M314.68,404.60L314.68,408.10M322.76,0.75L322.76,4.25M322.76,404.60L322.76,408.10M330.84,0.75L330.84,4.25M330.84,404.60L330.84,408.10M338.92,0.75L338.92,4.25M338.92,404.60L338.92,408.10M347.00,0.75L347.00,7.25M347.00,404.60L347.00,411.10M355.08,0.75L355.08,4.25M355.08,404.60L355.08,408.10M363.16,0.75L363.16,4.25M363.16,404.60L363.16,408.10M371.24,0.75L371.24,4.25M371.24,404.60L371.24,408.10M379.32,0.75L379.32,4.25M379.32,404.60L379.32,408.10M387.40,0.75L387.40,7.25M387.40,404.60L387.40,411.10M395.48,0.75L395.48,4.25M395.48,404.60L395.48,408.10M403.56,0.75L403.56,4.25M403.56,404.60L403.56,408.10M411.64,0.75L411.64,4.25M411.64,404.60L411.64,408.10M419.72,0.75L419.72,4.25M419.72,404.60L419.72,408.10M427.80,0.75L427.80,7.25M427.80,404.60L427.80,411.10M435.88,0.75L435.88,4.25M435.88,404.60L435.88,408.10M443.96,0.75L443.96,4.25M443.96,404.60L443.96,408.10M452.04,0.75L452.04,4.25M452.04,404.60L452.04,408.10M460.12,0.75L460.12,4.25M460.12,404.60L460.12,408.10M468.20,0.75L468.20,7.25M468.20,404.60L468.20,411.10M476.28,0.75L476.28,4.25M476.28,404.60L476.28,408.10M484.36,0.75L484.36,4.25M484.36,404.60L484.36,408.10M492.44,0.75L492.44,4.25M492.44,404.60L492.44,408.10M500.52,0.75L500.52,4.25M500.52,404.60L500.52,408.10M508.60,0.75L508.60,7.25M508.60,404.60L508.60,411.10M104.60,404.60L101.10,404.60M508.60,404.60L505.10,404.60M104.60,388.43L101.10,388.43M508.60,388.43L505.10,388.43M104.60,376.96L101.10,376.96M508.60,376.96L505.10,376.96M104.60,368.06L101.10,368.06M508.60,368.06L505.10,368.06M104.60,360.79L101.10,360.79M508.60,360.79L505.10,360.79M104.60,354.64L101.10,354.64M508.60,354.64L505.10,354.64M104.60,349.31L101.10,349.31M508.60,349.31L505.10,349.31M104.60,344.62L101.10,344.62M508.60,344.62L505.10,344.62M104.60,340.42L98.10,340.42M508.60,340.42L502.10,340.42M104.60,312.77L101.10,312.77M508.60,312.77L505.10,312.77M104.60,296.60L101.10,296.60M508.60,296.60L505.10,296.60M104.60,285.13L101.10,285.13M508.60,285.13L505.10,285.13M104.60,276.23L101.10,276.23M508.60,276.23L505.10,276.23M104.60,268.96L101.10,268.96M508.60,268.96L505.10,268.96M104.60,262.81L101.10,262.81M508.60,262.81L505.10,262.81M104.60,257.49L101.10,257.49M508.60,257.49L505.10,257.49M104.60,252.79L101.10,252.79M508.60,252.79L505.10,252.79M104.60,248.59L98.10,248.59M508.60,248.59L502.10,248.59M104.60,220.95L101.10,220.95M508.60,220.95L505.10,220.95M104.60,204.78L101.10,204.78M508.60,204.78L505.10,204.78M104.60,193.30L101.10,193.30M508.60,193.30L505.10,193.30M104.60,184.40L101.10,184.40M508.60,184.40L505.10,184.40M104.60,177.13L101.10,177.13M508.60,177.13L505.10,177.13M104.60,170.99L101.10,170.99M508.60,170.99L505.10,170.99M104.60,165.66L101.10,165.66M508.60,165.66L505.10,165.66M104.60,160.96L101.10,160.96M508.60,160.96L505.10,160.96M104.60,156.76L98.10,156.76M508.60,156.76L502.10,156.76M104.60,129.12L101.10,129.12M508.60,129.12L505.10,129.12M104.60,112.95L101.10,112.95M508.60,112.95L505.10,112.95M104.60,101.48L101.10,101.48M508.60,101.48L505.10,101.48M104.60,92.58L101.10,92.58M508.60,92.58L505.10,92.58M104.60,85.31L101.10,85.31M508.60,85.31L505.10,85.31M104.60,79.16L101.10,79.16M508.60,79.16L505.10,79.16M104.60,73.83L101.10,73.83M508.60,73.83L505.10,73.83M104.60,69.14L101.10,69.14M508.60,69.14L505.10,69.14M104.60,64.93L98.10,64.93M508.60,64.93L502.10,64.93M104.60,37.29L101.10,37.29M508.60,37.29L505.10,37.29M104.60,21.12L101.10,21.12M508.60,21.12L505.10,21.12M104.60,9.65L101.10,9.65M508.60,9.65L505.10,9.65M104.60,0.75L101.10,0.75M508.60,0.75L505.10,0.75M104.60,404.60L104.60,411.10M104.60,606.50L104.60,613.00M112.68,404.60L112.68,408.10M112.68,606.50L112.68,610.00M120.76,404.60L120.76,408.10M120.76,606.50L120.76,610.00M128.84,404.60L128.84,408.10M128.84,606.50L128.84,610.00M136.92,404.60L136.92,408.10M136.92,606.50L136.92,610.00M145.00,404.60L145.00,411.10M145.00,606.50L145.00,613.00M153.08,404.60L153.08,408.10M153.08,606.50L153.08,610.00M161.16,404.60L161.16,408.10M161.16,606.50L161.16,610.00M169.24,404.60L169.24,408.10M169.24,606.50L169.24,610.00M177.32,404.60L177.32,408.10M177.32,606.50L177.32,610.00M185.40,404.60L185.40,411.10M185.40,606.50L185.40,613.00M193.48,404.60L193.48,408.10M193.48,606.50L193.48,610.00M201.56,404.60L201.56,408.10M201.56,606.50L201.56,610.00M209.64,404.60L209.64,408.10M209.64,606.50L209.64,610.00M217.72,404.60L217.72,408.10M217.72,606.50L217.72,610.00M225.80,404.60L225.80,411.10M225.80,606.50L225.80,613.00M233.88,404.60L233.88,408.10M233.88,606.50L233.88,610.00M241.96,404.60L241.96,408.10M241.96,606.50L241.96,610.00M250.04,404.60L250.04,408.10M250.04,606.50L250.04,610.00M258.12,404.60L258.12,408.10M258.12,606.50L258.12,610.00M266.20,404.60L266.20,411.10M266.20,606.50L266.20,613.00M274.28,404.60L274.28,408.10M274.28,606.50L274.28,610.00M282.36,404.60L282.36,408.10M282.36,606.50L282.36,610.00M290.44,404.60L290.44,408.10M290.44,606.50L290.44,610.00M298.52,404.60L298.52,408.10M298.52,606.50L298.52,610.00M306.60,404.60L306.60,411.10M306.60,606.50L306.60,613.00M314.68,404.60L314.68,408.10M314.68,606.50L314.68,610.00M322.76,404.60L322.76,408.10M322.76,606.50L322.76,610.00M330.84,404.60L330.84,408.10M330.84,606.50L330.84,610.00M338.92,404.60L338.92,408.10M338.92,606.50L338.92,610.00M347.00,404.60L347.00,411.10M347.00,606.50L347.00,613.00M355.08,404.60L355.08,408.10M355.08,606.50L355.08,610.00M363.16,404.60L363.16,408.10M363.16,606.50L363.16,610.00M371.24,404.60L371.24,408.10M371.24,606.50L371.24,610.00M379.32,404.60L379.32,408.10M379.32,606.50L379.32,610.00M387.40,404.60L387.40,411.10M387.40,606.50L387.40,613.00M395.48,404.60L395.48,408.10M395.48,606.50L395.48,610.00M403.56,404.60L403.56,408.10M403.56,606.50L403.56,610.00M411.64,404.60L411.64,408.10M411.64,606.50L411.64,610.00M419.72,404.60L419.72,408.10M419.72,606.50L419.72,610.00M427.80,404.60L427.80,411.10M427.80,606.50L427.80,613.00M435.88,404.60L435.88,408.10M435.88,606.50L435.88,610.00M443.96,404.60L443.96,408.10M443.96,606.50L443.96,610.00M452.04,404.60L452.04,408.10M452.04,606.50L452.04,610.00M460.12,404.60L460.12,408.10M460.12,606.50L460.12,610.00M468.20,404.60L468.20,411.10M468.20,606.50L468.20,613.00M476.28,404.60L476.28,408.10M476.28,606.50L476.28,610.00M484.36,404.60L484.36,408.10M484.36,606.50L484.36,610.00M492.44,404.60L492.44,408.10M492.44,606.50L492.44,610.00M500.52,404.60L500.52,408.10M500.52,606.50L500.52,610.00M508.60,404.60L508.60,411.10M508.60,606.50L508.60,613.00M104.60,606.50L98.10,606.50M508.60,606.50L502.10,606.50M104.60,597.29L101.10,597.29M508.60,597.29L505.10,597.29M104.60,591.91L101.10,591.91M508.60,591.91L505.10,591.91M104.60,588.09L101.10,588.09M508.60,588.09L505.10,588.09M104.60,585.12L101.10,585.12M508.60,585.12L505.10,585.12M104.60,582.70L101.10,582.70M508.60,582.70L505.10,582.70M104.60,580.66L101.10,580.66M508.60,580.66L505.10,580.66M104.60,578.88L101.10,578.88M508.60,578.88L505.10,578.88M104.60,577.32L101.10,577.32M508.60,577.32L505.10,577.32M104.60,575.92L98.10,575.92M508.60,575.92L502.10,575.92M104.60,566.71L101.10,566.71M508.60,566.71L505.10,566.71M104.60,561.33L101.10,561.33M508.60,561.33L505.10,561.33M104.60,557.51L101.10,557.51M508.60,557.51L505.10,557.51M104.60,554.54L101.10,554.54M508.60,554.54L505.10,554.54M104.60,552.12L101.10,552.12M508.60,552.12L505.10,552.12M104.60,550.07L101.10,550.07M508.60,550.07L505.10,550.07M104.60,548.30L101.10,548.30M508.60,548.30L505.10,548.30M104.60,546.74L101.10,546.74M508.60,546.74L505.10,546.74M104.60,545.34L98.10,545.34M508.60,545.34L502.10,545.34M104.60,536.13L101.10,536.13M508.60,536.13L505.10,536.13M104.60,530.75L101.10,530.75M508.60,530.75L505.10,530.75M104.60,526.93L101.10,526.93M508.60,526.93L505.10,526.93M104.60,523.96L101.10,523.96M508.60,523.96L505.10,523.96M104.60,521.54L101.10,521.54M508.60,521.54L505.10,521.54M104.60,519.49L101.10,519.49M508.60,519.49L505.10,519.49M104.60,517.72L101.10,517.72M508.60,517.72L505.10,517.72M104.60,516.16L101.10,516.16M508.60,516.16L505.10,516.16M104.60,514.76L98.10,514.76M508.60,514.76L502.10,514.76M104.60,505.55L101.10,505.55M508.60,505.55L505.10,505.55M104.60,500.16L101.10,500.16M508.60,500.16L505.10,500.16M104.60,496.34L101.10,496.34M508.60,496.34L505.10,496.34M104.60,493.38L101.10,493.38M508.60,493.38L505.10,493.38M104.60,490.96L101.10,490.96M508.60,490.96L505.10,490.96M104.60,488.91L101.10,488.91M508.60,488.91L505.10,488.91M104.60,487.14L101.10,487.14M508.60,487.14L505.10,487.14M104.60,485.57L101.10,485.57M508.60,485.57L505.10,485.57M104.60,484.17L98.10,484.17M508.60,484.17L502.10,484.17M104.60,474.97L101.10,474.97M508.60,474.97L505.10,474.97M104.60,469.58L101.10,469.58M508.60,469.58L505.10,469.58M104.60,465.76L101.10,465.76M508.60,465.76L505.10,465.76M104.60,462.80L101.10,462.80M508.60,462.80L505.10,462.80M104.60,460.38L101.10,460.38M508.60,460.38L505.10,460.38M104.60,458.33L101.10,458.33M508.60,458.33L505.10,458.33M104.60,456.56L101.10,456.56M508.60,456.56L505.10,456.56M104.60,454.99L101.10,454.99M508.60,454.99L505.10,454.99M104.60,453.59L98.10,453.59M508.60,453.59L502.10,453.59M104.60,444.39L101.10,444.39M508.60,444.39L505.10,444.39M104.60,439.00L101.10,439.00M508.60,439.00L505.10,439.00M104.60,435.18L101.10,435.18M508.60,435.18L505.10,435.18M104.60,432.22L101.10,432.22M508.60,432.22L505.10,432.22M104.60,429.80L101.10,429.80M508.60,429.80L505.10,429.80M104.60,427.75L101.10,427.75M508.60,427.75L505.10,427.75M104.60,425.98L101.10,425.98M508.60,425.98L505.10,425.98M104.60,424.41L101.10,424.41M508.60,424.41L505.10,424.41M104.60,423.01L98.10,423.01M508.60,423.01L502.10,423.01M104.60,413.81L101.10,413.81M508.60,413.81L505.10,413.81M104.60,408.42L101.10,408.42M508.60,408.42L505.10,408.42M104.60,404.60L101.10,404.60M508.60,404.60L505.10,404.60M104.60,606.50L104.60,613.00M104.60,808.50L104.60,815.00M112.68,606.50L112.68,610.00M112.68,808.50L112.68,812.00M120.76,606.50L120.76,610.00M120.76,808.50L120.76,812.00M128.84,606.50L128.84,610.00M128.84,808.50L128.84,812.00M136.92,606.50L136.92,610.00M136.92,808.50L136.92,812.00M145.00,606.50L145.00,613.00M145.00,808.50L145.00,815.00M153.08,606.50L153.08,610.00M153.08,808.50L153.08,812.00M161.16,606.50L161.16,610.00M161.16,808.50L161.16,812.00M169.24,606.50L169.24,610.00M169.24,808.50L169.24,812.00M177.32,606.50L177.32,610.00M177.32,808.50L177.32,812.00M185.40,606.50L185.40,613.00M185.40,808.50L185.40,815.00M193.48,606.50L193.48,610.00M193.48,808.50L193.48,812.00M201.56,606.50L201.56,610.00M201.56,808.50L201.56,812.00M209.64,606.50L209.64,610.00M209.64,808.50L209.64,812.00M217.72,606.50L217.72,610.00M217.72,808.50L217.72,812.00M225.80,606.50L225.80,613.00M225.80,808.50L225.80,815.00M233.88,606.50L233.88,610.00M233.88,808.50L233.88,812.00M241.96,606.50L241.96,610.00M241.96,808.50L241.96,812.00M250.04,606.50L250.04,610.00M250.04,808.50L250.04,812.00M258.12,606.50L258.12,610.00M258.12,808.50L258.12,812.00M266.20,606.50L266.20,613.00M266.20,808.50L266.20,815.00M274.28,606.50L274.28,610.00M274.28,808.50L274.28,812.00M282.36,606.50L282.36,610.00M282.36,808.50L282.36,812.00M290.44,606.50L290.44,610.00M290.44,808.50L290.44,812.00M298.52,606.50L298.52,610.00M298.52,808.50L298.52,812.00M306.60,606.50L306.60,613.00M306.60,808.50L306.60,815.00M314.68,606.50L314.68,610.00M314.68,808.50L314.68,812.00M322.76,606.50L322.76,610.00M322.76,808.50L322.76,812.00M330.84,606.50L330.84,610.00M330.84,808.50L330.84,812.00M338.92,606.50L338.92,610.00M338.92,808.50L338.92,812.00M347.00,606.50L347.00,613.00M347.00,808.50L347.00,815.00M355.08,606.50L355.08,610.00M355.08,808.50L355.08,812.00M363.16,606.50L363.16,610.00M363.16,808.50L363.16,812.00M371.24,606.50L371.24,610.00M371.24,808.50L371.24,812.00M379.32,606.50L379.32,610.00M379.32,808.50L379.32,812.00M387.40,606.50L387.40,613.00M387.40,808.50L387.40,815.00M395.48,606.50L395.48,610.00M395.48,808.50L395.48,812.00M403.56,606.50L403.56,610.00M403.56,808.50L403.56,812.00M411.64,606.50L411.64,610.00M411.64,808.50L411.64,812.00M419.72,606.50L419.72,610.00M419.72,808.50L419.72,812.00M427.80,606.50L427.80,613.00M427.80,808.50L427.80,815.00M435.88,606.50L435.88,610.00M435.88,808.50L435.88,812.00M443.96,606.50L443.96,610.00M443.96,808.50L443.96,812.00M452.04,606.50L452.04,610.00M452.04,808.50L452.04,812.00M460.12,606.50L460.12,610.00M460.12,808.50L460.12,812.00M468.20,606.50L468.20,613.00M468.20,808.50L468.20,815.00M476.28,606.50L476.28,610.00M476.28,808.50L476.28,812.00M484.36,606.50L484.36,610.00M484.36,808.50L484.36,812.00M492.44,606.50L492.44,610.00M492.44,808.50L492.44,812.00M500.52,606.50L500.52,610.00M500.52,808.50L500.52,812.00M508.60,606.50L508.60,613.00M508.60,808.50L508.60,815.00M104.60,808.50L98.10,808.50M508.60,808.50L502.10,808.50M104.60,799.29L101.10,799.29M508.60,799.29L505.10,799.29M104.60,793.90L101.10,793.90M508.60,793.90L505.10,793.90M104.60,790.08L101.10,790.08M508.60,790.08L505.10,790.08M104.60,787.11L101.10,787.11M508.60,787.11L505.10,787.11M104.60,784.69L101.10,784.69M508.60,784.69L505.10,784.69M104.60,782.64L101.10,782.64M508.60,782.64L505.10,782.64M104.60,780.87L101.10,780.87M508.60,780.87L505.10,780.87M104.60,779.30L101.10,779.30M508.60,779.30L505.10,779.30M104.60,777.90L98.10,777.90M508.60,777.90L502.10,777.90M104.60,768.69L101.10,768.69M508.60,768.69L505.10,768.69M104.60,763.31L101.10,763.31M508.60,763.31L505.10,763.31M104.60,759.48L101.10,759.48M508.60,759.48L505.10,759.48M104.60,756.52L101.10,756.52M508.60,756.52L505.10,756.52M104.60,754.09L101.10,754.09M508.60,754.09L505.10,754.09M104.60,752.05L101.10,752.05M508.60,752.05L505.10,752.05M104.60,750.27L101.10,750.27M508.60,750.27L505.10,750.27M104.60,748.71L101.10,748.71M508.60,748.71L505.10,748.71M104.60,747.31L98.10,747.31M508.60,747.31L502.10,747.31M104.60,738.10L101.10,738.10M508.60,738.10L505.10,738.10M104.60,732.71L101.10,732.71M508.60,732.71L505.10,732.71M104.60,728.89L101.10,728.89M508.60,728.89L505.10,728.89M104.60,725.92L101.10,725.92M508.60,725.92L505.10,725.92M104.60,723.50L101.10,723.50M508.60,723.50L505.10,723.50M104.60,721.45L101.10,721.45M508.60,721.45L505.10,721.45M104.60,719.68L101.10,719.68M508.60,719.68L505.10,719.68M104.60,718.11L101.10,718.11M508.60,718.11L505.10,718.11M104.60,716.71L98.10,716.71M508.60,716.71L502.10,716.71M104.60,707.50L101.10,707.50M508.60,707.50L505.10,707.50M104.60,702.11L101.10,702.11M508.60,702.11L505.10,702.11M104.60,698.29L101.10,698.29M508.60,698.29L505.10,698.29M104.60,695.32L101.10,695.32M508.60,695.32L505.10,695.32M104.60,692.90L101.10,692.90M508.60,692.90L505.10,692.90M104.60,690.85L101.10,690.85M508.60,690.85L505.10,690.85M104.60,689.08L101.10,689.08M508.60,689.08L505.10,689.08M104.60,687.51L101.10,687.51M508.60,687.51L505.10,687.51M104.60,686.11L98.10,686.11M508.60,686.11L502.10,686.11M104.60,676.90L101.10,676.90M508.60,676.90L505.10,676.90M104.60,671.52L101.10,671.52M508.60,671.52L505.10,671.52M104.60,667.69L101.10,667.69M508.60,667.69L505.10,667.69M104.60,664.73L101.10,664.73M508.60,664.73L505.10,664.73M104.60,662.31L101.10,662.31M508.60,662.31L505.10,662.31M104.60,660.26L101.10,660.26M508.60,660.26L505.10,660.26M104.60,658.48L101.10,658.48M508.60,658.48L505.10,658.48M104.60,656.92L101.10,656.92M508.60,656.92L505.10,656.92M104.60,655.52L98.10,655.52M508.60,655.52L502.10,655.52M104.60,646.31L101.10,646.31M508.60,646.31L505.10,646.31M104.60,640.92L101.10,640.92M508.60,640.92L505.10,640.92M104.60,637.10L101.10,637.10M508.60,637.10L505.10,637.10M104.60,634.13L101.10,634.13M508.60,634.13L505.10,634.13M104.60,631.71L101.10,631.71M508.60,631.71L505.10,631.71M104.60,629.66L101.10,629.66M508.60,629.66L505.10,629.66M104.60,627.89L101.10,627.89M508.60,627.89L505.10,627.89M104.60,626.32L101.10,626.32M508.60,626.32L505.10,626.32M104.60,624.92L98.10,624.92M508.60,624.92L502.10,624.92M104.60,615.71L101.10,615.71M508.60,615.71L505.10,615.71M104.60,610.32L101.10,610.32M508.60,610.32L505.10,610.32M104.60,606.50L101.10,606.50M508.60,606.50L505.10,606.50" stroke="#000" stroke-width="1.3" fill="none"/>
<rect x="104.6" y="0.75" width="404.0" height="403.85" fill="none" stroke="#000" stroke-width="1.5"/>
<rect x="104.6" y="404.6" width="404.0" height="201.89999999999998" fill="none" stroke="#000" stroke-width="1.5"/>
<rect x="104.6" y="606.5" width="404.0" height="202.0" fill="none" stroke="#000" stroke-width="1.5"/>
<text x="55.4" y="347.52" font-family='"Liberation Sans", sans-serif' font-size="22" fill="#000">10<tspan font-size="13.5" dy="-6.4">1</tspan></text>
<text x="55.4" y="255.69" font-family='"Liberation Sans", sans-serif' font-size="22" fill="#000">10<tspan font-size="13.5" dy="-6.4">2</tspan></text>
<text x="55.4" y="163.86" font-family='"Liberation Sans", sans-serif' font-size="22" fill="#000">10<tspan font-size="13.5" dy="-6.4">3</tspan></text>
<text x="55.4" y="72.03" font-family='"Liberation Sans", sans-serif' font-size="22" fill="#000">10<tspan font-size="13.5" dy="-6.4">4</tspan></text>
<text x="50.5" y="430.31" font-family='"Liberation Sans", sans-serif' font-size="22" fill="#000">10<tspan font-size="13.5" dy="-7.4">0</tspan></text>
<text x="50.5" y="460.89" font-family='"Liberation Sans", sans-serif' font-size="22" fill="#000">10<tspan font-size="13.5" dy="-7.4">-1</tspan></text>
<text x="50.5" y="491.47" font-family='"Liberation Sans", sans-serif' font-size="22" fill="#000">10<tspan font-size="13.5" dy="-7.4">-2</tspan></text>
<text x="50.5" y="522.06" font-family='"Liberation Sans", sans-serif' font-size="22" fill="#000">10<tspan font-size="13.5" dy="-7.4">-3</tspan></text>
<text x="50.5" y="552.64" font-family='"Liberation Sans", sans-serif' font-size="22" fill="#000">10<tspan font-size="13.5" dy="-7.4">-4</tspan></text>
<text x="50.5" y="583.22" font-family='"Liberation Sans", sans-serif' font-size="22" fill="#000">10<tspan font-size="13.5" dy="-7.4">-5</tspan></text>
<text x="50.5" y="613.80" font-family='"Liberation Sans", sans-serif' font-size="22" fill="#000">10<tspan font-size="13.5" dy="-7.4">-6</tspan></text>
<text x="50.5" y="632.22" font-family='"Liberation Sans", sans-serif' font-size="22" fill="#000">10<tspan font-size="13.5" dy="-7.4">-1</tspan></text>
<text x="50.5" y="662.82" font-family='"Liberation Sans", sans-serif' font-size="22" fill="#000">10<tspan font-size="13.5" dy="-7.4">-2</tspan></text>
<text x="50.5" y="693.41" font-family='"Liberation Sans", sans-serif' font-size="22" fill="#000">10<tspan font-size="13.5" dy="-7.4">-3</tspan></text>
<text x="50.5" y="724.01" font-family='"Liberation Sans", sans-serif' font-size="22" fill="#000">10<tspan font-size="13.5" dy="-7.4">-4</tspan></text>
<text x="50.5" y="754.61" font-family='"Liberation Sans", sans-serif' font-size="22" fill="#000">10<tspan font-size="13.5" dy="-7.4">-5</tspan></text>
<text x="50.5" y="785.20" font-family='"Liberation Sans", sans-serif' font-size="22" fill="#000">10<tspan font-size="13.5" dy="-7.4">-6</tspan></text>
<text x="50.5" y="815.80" font-family='"Liberation Sans", sans-serif' font-size="22" fill="#000">10<tspan font-size="13.5" dy="-7.4">-7</tspan></text>
<text x="104.60" y="846.3" text-anchor="middle" font-family='"Liberation Sans", sans-serif' font-size="21.5" fill="#000">-50</text>
<text x="145.00" y="846.3" text-anchor="middle" font-family='"Liberation Sans", sans-serif' font-size="21.5" fill="#000">-40</text>
<text x="185.40" y="846.3" text-anchor="middle" font-family='"Liberation Sans", sans-serif' font-size="21.5" fill="#000">-30</text>
<text x="225.80" y="846.3" text-anchor="middle" font-family='"Liberation Sans", sans-serif' font-size="21.5" fill="#000">-20</text>
<text x="266.20" y="846.3" text-anchor="middle" font-family='"Liberation Sans", sans-serif' font-size="21.5" fill="#000">-10</text>
<text x="306.60" y="846.3" text-anchor="middle" font-family='"Liberation Sans", sans-serif' font-size="21.5" fill="#000">0</text>
<text x="347.00" y="846.3" text-anchor="middle" font-family='"Liberation Sans", sans-serif' font-size="21.5" fill="#000">10</text>
<text x="387.40" y="846.3" text-anchor="middle" font-family='"Liberation Sans", sans-serif' font-size="21.5" fill="#000">20</text>
<text x="427.80" y="846.3" text-anchor="middle" font-family='"Liberation Sans", sans-serif' font-size="21.5" fill="#000">30</text>
<text x="468.20" y="846.3" text-anchor="middle" font-family='"Liberation Sans", sans-serif' font-size="21.5" fill="#000">40</text>
<text x="508.60" y="846.3" text-anchor="middle" font-family='"Liberation Sans", sans-serif' font-size="21.5" fill="#000">50</text>
<text transform="translate(23.5,201.75) rotate(-90)" text-anchor="middle" font-family='"Liberation Sans", sans-serif' font-weight="bold" font-size="25.4" fill="#000">HRS signal (counts)</text>
<text transform="translate(18.7,503.75) rotate(-90)" text-anchor="middle" font-family='"Liberation Sans", sans-serif' font-weight="bold" font-size="25.4" fill="#000">HRS intensity</text>
<text transform="translate(18.7,706.0) rotate(-90)" text-anchor="middle" font-family='"Liberation Sans", sans-serif' font-weight="bold" font-size="25.4" fill="#000">HRS intensity</text>
<text x="307.2" y="902.2" text-anchor="middle" font-family='"Liberation Sans", sans-serif' font-weight="bold" font-size="25.3" fill="#000">Frequency (cm<tspan font-size="15" dy="-10">-</tspan><tspan font-size="15" dx="1.5">1</tspan><tspan dy="10">)</tspan></text>
<text x="126" y="42.5" text-anchor="start" font-family='"Liberation Sans", sans-serif' font-weight="bold" font-size="24.3" fill="#000">(a)</text>
<text x="132" y="444" text-anchor="start" font-family='"Liberation Sans", sans-serif' font-weight="bold" font-size="24.3" fill="#000">(b)</text>
<text x="126" y="652.5" text-anchor="start" font-family='"Liberation Sans", sans-serif' font-weight="bold" font-size="24.3" fill="#000">(c)</text>
<text x="445.5" y="50" text-anchor="start" font-family='"Liberation Sans", sans-serif' font-size="25" fill="#000">VV</text>
<text x="453.5" y="447.8" text-anchor="start" font-family='"Liberation Sans", sans-serif' font-size="25" fill="#000">VV</text>
<text x="447.5" y="648.5" text-anchor="start" font-family='"Liberation Sans", sans-serif' font-size="25" fill="#000">HV</text>
<text x="338" y="378.8" text-anchor="start" font-family='"Liberation Sans", sans-serif' font-size="25.4" fill="#000">1</text>
<text x="438" y="237.2" text-anchor="start" font-family='"Liberation Sans", sans-serif' font-size="25.4" fill="#000">2</text>
<text x="440" y="379.7" text-anchor="start" font-family='"Liberation Sans", sans-serif' font-size="25.4" fill="#000">3</text>
</svg>
</body></html>
